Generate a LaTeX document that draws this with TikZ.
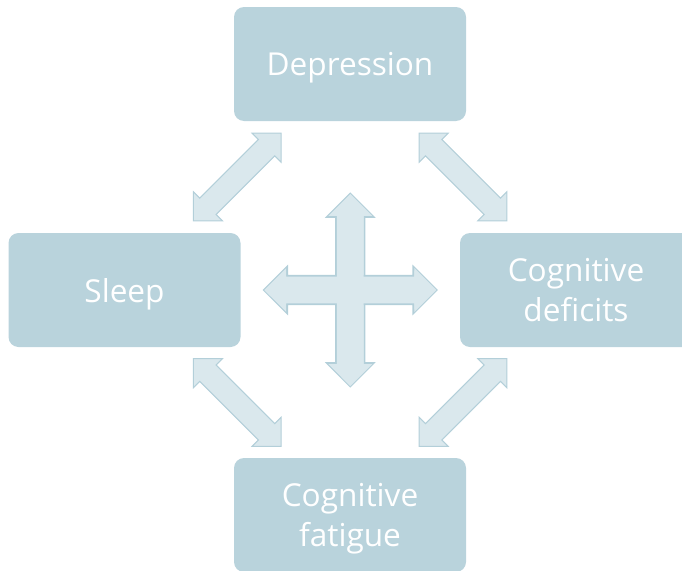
\documentclass[tikz,border=0pt]{standalone}
\usepackage{fontspec}
\setmainfont{Open Sans}
\usetikzlibrary{shapes.arrows,calc}
\definecolor{boxblue}{HTML}{B9D3DC}
\definecolor{arrfill}{HTML}{DAE8ED}
\definecolor{arredge}{HTML}{B3CFD9}
\tikzset{
  box/.style={fill=boxblue,rounded corners=7.5pt,minimum width=174pt,
              minimum height=85.5pt,align=center,text=white,text depth=0pt,
              font=\fontsize{23.7}{29.5}\selectfont},
  dblarrow/.style={double arrow,draw=arredge,fill=arrfill,line width=0.8pt,
                   inner xsep=0pt,inner ysep=8.25pt,double arrow head extend=6.75pt,
                   double arrow tip angle=90,minimum height=93pt},
  crossarm/.style={double arrow,inner xsep=0pt,inner ysep=9.75pt,
                   double arrow head extend=6.5pt,double arrow tip angle=90},
}
\begin{document}
\begin{tikzpicture}[x=0.75pt,y=0.75pt]
  \useasboundingbox (0,0) rectangle (682,-571);
  \clip (0,0) rectangle (682,-571);

  \node[box] (dep) at (350,-64) {Depression};
  \node[box] (sleep) at (124.5,-290) {Sleep};
  \node[box] (cogdef) at (576,-290) {Cognitive\\deficits};
  \node[box] (cogfat) at (350,-515) {Cognitive\\fatigue};

  % two-way links between neighbouring boxes
  \node[dblarrow,rotate=45] (a1) at ($(dep.south west)!0.5!(sleep.north east)$) {};
  \node[dblarrow,rotate=-45] (a2) at ($(dep.south east)!0.5!(cogdef.north west)$) {};
  \node[dblarrow,rotate=-45] (a3) at ($(sleep.south east)!0.5!(cogfat.north west)$) {};
  \node[dblarrow,rotate=45] (a4) at ($(cogdef.south west)!0.5!(cogfat.north east)$) {};

  % centre cross: outline first, then one fill over both arms
  \coordinate (mid) at ($(sleep)!0.5!(cogdef)$);
  \node[crossarm,draw=arredge,line width=1.6pt,rotate=90,minimum height=144pt] at (mid) {};
  \node[crossarm,draw=arredge,line width=1.6pt,minimum height=129pt] at (mid) {};
  \node[crossarm,fill=arrfill,rotate=90,minimum height=144pt] (vert) at (mid) {};
  \node[crossarm,fill=arrfill,minimum height=129pt] (horiz) at (mid) {};
\end{tikzpicture}
\end{document}
